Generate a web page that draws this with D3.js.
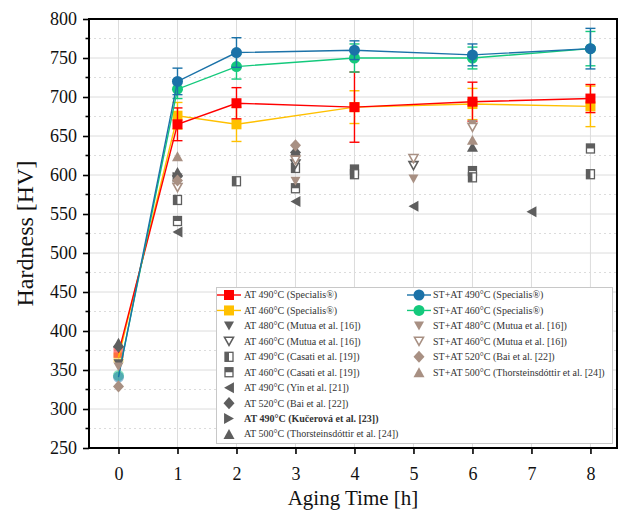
<!DOCTYPE html>
<html>
<head>
<meta charset="utf-8">
<script src="https://cdn.jsdelivr.net/npm/d3@7/dist/d3.min.js"></script>
<style>
  html, body { margin: 0; padding: 0; background: #fff; }
  svg { display: block; }
  text { font-family: "Liberation Serif", "Times New Roman", serif; }
</style>
</head>
<body>
<svg id="chart" width="622" height="511"></svg>
<script>
// ---- Specialis measurements (mean hardness and error) ----
const specialisHours = [0, 1, 2, 4, 6, 8];
const at490Specialis = [372, 665, 692, 687, 694, 698];
const at490SpecialisErr = [5, 21, 20, 45, 25, 18];
const at460Specialis = [366, 676, 665, 687, 691, 688];
const at460SpecialisErr = [5, 17, 22, 21, 20, 26];
const st490Specialis = [341, 720, 757, 760, 754, 762];
const st490SpecialisErr = [4, 17, 19, 12, 14, 26];
const st460Specialis = [343, 710, 739, 750, 750, 762];
const st460SpecialisErr = [4, 12, 16, 18, 14, 22];

// ---- literature values, [hours, HV] ----
const mutuaAT480 = [[0, 358], [1, 596], [3, 621]];
const mutuaAT460 = [[3, 614], [5, 612]];
const casatiAT490 = [[1, 568], [2, 592], [3, 609], [4, 601], [6, 597], [8, 601]];
const casatiAT460 = [[1, 541], [3, 583], [4, 607], [6, 605], [8, 634]];
const yinAT490 = [[1, 527], [3, 566], [5, 560], [7, 553]];
const baiAT520 = [[0, 380], [1, 599], [3, 629]];
const kucerovaAT490 = [[1, 597]];
const thorAT500 = [[0, 385], [1, 604], [6, 636]];
const mutuaST480 = [[0, 354], [3, 592], [5, 595], [6, 665]];
const mutuaST460 = [[1, 584], [3, 619], [5, 621], [6, 661]];
const baiST520 = [[0, 329], [1, 593], [3, 638]];
const thorST500 = [[1, 624], [6, 645]];

// ---- axis ticks ----
const xTicks = [0, 1, 2, 3, 4, 5, 6, 7, 8];
const yTicks = [250, 300, 350, 400, 450, 500, 550, 600, 650, 700, 750, 800];
const yMinorTicks = [275, 325, 375, 425, 475, 525, 575, 625, 675, 725, 775];

const RED = "#ff0000", YELLOW = "#ffc000", BLUE = "#1b72a8", GREEN = "#14c97c";
const DARK = "#5e5e5e", BROWN = "#a89083";

const svg = d3.select("#chart");
const W = 622, H = 511;
const margin = { left: 89, right: 5, top: 19, bottom: 63 };

const x = d3.scaleLinear().domain([-0.5, 8.45]).range([margin.left, W - margin.right]);
const y = d3.scaleLinear().domain([250, 800]).range([H - margin.bottom, margin.top]);

const x0 = margin.left, x1 = W - margin.right, y0 = H - margin.bottom, y1 = margin.top;

// ---- grid ----
const grid = svg.append("g");
grid.selectAll(".gv").data(xTicks).join("line")
  .attr("x1", d => x(d)).attr("x2", d => x(d)).attr("y1", y0).attr("y2", y1)
  .attr("stroke", "#dcdcdc").attr("stroke-width", 1);
grid.selectAll(".gh").data(yTicks.slice(1, -1)).join("line")
  .attr("x1", x0).attr("x2", x1).attr("y1", d => y(d)).attr("y2", d => y(d))
  .attr("stroke", "#dcdcdc").attr("stroke-width", 1);
grid.selectAll(".gm").data(yMinorTicks).join("line")
  .attr("x1", x0).attr("x2", x1).attr("y1", d => y(d)).attr("y2", d => y(d))
  .attr("stroke", "#dcdcdc").attr("stroke-width", 1).attr("stroke-dasharray", "2,3");

// ---- marker shapes ----
function triDown(s) { const h = s * 0.9; return `M${-s/2},${-h/2}L${s/2},${-h/2}L0,${h/2}Z`; }
function triUp(s) { const h = s * 0.9; return `M${-s/2},${h/2}L${s/2},${h/2}L0,${-h/2}Z`; }
function triLeft(s) { const w = s * 0.9; return `M${w/2},${-s/2}L${w/2},${s/2}L${-w/2},0Z`; }
function triRight(s) { const w = s * 0.9; return `M${-w/2},${-s/2}L${-w/2},${s/2}L${w/2},0Z`; }
function diamond(s) { return `M0,${-s/2*1.1}L${s/2},0L0,${s/2*1.1}L${-s/2},0Z`; }

// draw one marker of a given kind into a group
function marker(g, kind, color, cx, cy, opacity) {
  const m = g.append("g").attr("transform", `translate(${cx},${cy})`);
  if (opacity !== undefined) m.attr("opacity", opacity);
  switch (kind) {
    case "square":
      m.append("rect").attr("x", -5).attr("y", -5).attr("width", 10).attr("height", 10).attr("fill", color);
      break;
    case "circle":
      m.append("circle").attr("r", 5.5).attr("fill", color);
      break;
    case "triDown":
      m.append("path").attr("d", triDown(10)).attr("fill", color);
      break;
    case "triDownOpen":
      m.append("path").attr("d", triDown(9)).attr("fill", "#fff").attr("stroke", color).attr("stroke-width", 1.6);
      break;
    case "triUp":
      m.append("path").attr("d", triUp(11)).attr("fill", color);
      break;
    case "triLeft":
      m.append("path").attr("d", triLeft(11)).attr("fill", color);
      break;
    case "triRight":
      m.append("path").attr("d", triRight(11)).attr("fill", color);
      break;
    case "diamond":
      m.append("path").attr("d", diamond(11)).attr("fill", color);
      break;
    case "halfLeft":
      m.append("rect").attr("x", -4).attr("y", -4.5).attr("width", 8).attr("height", 9)
        .attr("fill", "#fff").attr("stroke", color).attr("stroke-width", 1.3);
      m.append("rect").attr("x", -4).attr("y", -4.5).attr("width", 4).attr("height", 9).attr("fill", color);
      break;
    case "halfTop":
      m.append("rect").attr("x", -4).attr("y", -4.5).attr("width", 8).attr("height", 9)
        .attr("fill", "#fff").attr("stroke", color).attr("stroke-width", 1.3);
      m.append("rect").attr("x", -4).attr("y", -4.5).attr("width", 8).attr("height", 4.5).attr("fill", color);
      break;
  }
}

// ---- Specialis series: lines, error bars, markers ----
const specialis = [
  { vals: at460Specialis, err: at460SpecialisErr, color: YELLOW, kind: "square" },
  { vals: at490Specialis, err: at490SpecialisErr, color: RED, kind: "square" },
  { vals: st460Specialis, err: st460SpecialisErr, color: GREEN, kind: "circle" },
  { vals: st490Specialis, err: st490SpecialisErr, color: BLUE, kind: "circle" }
];

const series = svg.append("g");
// as-received points at 0 h (drawn lighter, beneath the curves)
specialis.forEach(s => {
  marker(series, s.kind, s.color, x(specialisHours[0]), y(s.vals[0]), 0.5);
});
const line = d3.line().x(d => x(d[0])).y(d => y(d[1]));
specialis.forEach(s => {
  const pts = specialisHours.map((h, i) => [h, s.vals[i]]);
  series.append("path").attr("d", line(pts)).attr("fill", "none")
    .attr("stroke", s.color).attr("stroke-width", 1.4);
  specialisHours.forEach((h, i) => {
    if (i === 0) return;
    const cx = x(h), v = s.vals[i], e = s.err[i];
    const eb = series.append("g").attr("stroke", s.color).attr("stroke-width", 1.4);
    eb.append("line").attr("x1", cx).attr("x2", cx).attr("y1", y(v - e)).attr("y2", y(v + e));
    eb.append("line").attr("x1", cx - 5).attr("x2", cx + 5).attr("y1", y(v - e)).attr("y2", y(v - e));
    eb.append("line").attr("x1", cx - 5).attr("x2", cx + 5).attr("y1", y(v + e)).attr("y2", y(v + e));
    marker(series, s.kind, s.color, cx, y(v));
  });
});

// ---- literature data ----
const literature = [
  { data: yinAT490, kind: "triLeft", color: DARK },
  { data: casatiAT460, kind: "halfTop", color: DARK },
  { data: casatiAT490, kind: "halfLeft", color: DARK },
  { data: kucerovaAT490, kind: "triRight", color: DARK },
  { data: mutuaAT480, kind: "triDown", color: DARK },
  { data: mutuaAT460, kind: "triDownOpen", color: DARK },
  { data: baiAT520, kind: "diamond", color: DARK },
  { data: thorAT500, kind: "triUp", color: DARK },
  { data: mutuaST480, kind: "triDown", color: BROWN },
  { data: mutuaST460, kind: "triDownOpen", color: BROWN },
  { data: baiST520, kind: "diamond", color: BROWN },
  { data: thorST500, kind: "triUp", color: BROWN }
];
const lit = svg.append("g");
literature.forEach(s => s.data.forEach(d => marker(lit, s.kind, s.color, x(d[0]), y(d[1]))));

// ---- axes ----
const axisFont = 18;
const yAxis = svg.append("g").attr("transform", `translate(${x0},0)`)
  .call(d3.axisLeft(y).tickValues(yTicks).tickSize(6).tickPadding(6).tickFormat(d3.format("d")));
yAxis.selectAll(".tick text").attr("font-size", axisFont).attr("fill", "#111")
  .attr("font-family", "Liberation Serif, serif");
yAxis.selectAll(".tick line").attr("stroke", "#000").attr("stroke-width", 1.6);
yAxis.select(".domain").remove();
yAxis.selectAll(".minor").data(yMinorTicks).join("line")
  .attr("x1", -3.5).attr("x2", 0).attr("y1", d => y(d)).attr("y2", d => y(d))
  .attr("stroke", "#000").attr("stroke-width", 1.6);

const xAxis = svg.append("g").attr("transform", `translate(0,${y0})`)
  .call(d3.axisBottom(x).tickValues(xTicks).tickSize(6).tickPadding(13).tickFormat(d3.format("d")));
xAxis.selectAll(".tick text").attr("font-size", axisFont).attr("fill", "#111")
  .attr("font-family", "Liberation Serif, serif");
xAxis.selectAll(".tick line").attr("stroke", "#000").attr("stroke-width", 1.6);
xAxis.select(".domain").remove();

// plot frame
svg.append("rect").attr("x", x0).attr("y", y1).attr("width", x1 - x0).attr("height", y0 - y1)
  .attr("fill", "none").attr("stroke", "#000").attr("stroke-width", 2);

// axis titles
svg.append("text").attr("x", (x0 + x1) / 2).attr("y", 505).attr("text-anchor", "middle")
  .attr("font-size", 21).attr("fill", "#111").text("Aging Time [h]");
svg.append("text").attr("transform", `translate(33,${(y0 + y1) / 2}) rotate(-90)`)
  .attr("text-anchor", "middle").attr("font-size", 24).attr("fill", "#111").text("Hardness [HV]");

// ---- legend ----
const legendLeft = [
  { label: "AT 490°C (Specialis®)", kind: "square", color: RED, line: true },
  { label: "AT 460°C (Specialis®)", kind: "square", color: YELLOW, line: true },
  { label: "AT 480°C (Mutua et al. [16])", kind: "triDown", color: DARK },
  { label: "AT 460°C (Mutua et al. [16])", kind: "triDownOpen", color: DARK },
  { label: "AT 490°C (Casati et al. [19])", kind: "halfLeft", color: DARK },
  { label: "AT 460°C (Casati et al. [19])", kind: "halfTop", color: DARK },
  { label: "AT 490°C (Yin et al. [21])", kind: "triLeft", color: DARK },
  { label: "AT 520°C (Bai et al. [22])", kind: "diamond", color: DARK },
  { label: "AT 490°C (Kučerová et al. [23])", kind: "triRight", color: DARK, bold: true },
  { label: "AT 500°C (Thorsteinsdóttir et al. [24])", kind: "triUp", color: DARK }
];
const legendRight = [
  { label: "ST+AT 490°C (Specialis®)", kind: "circle", color: BLUE, line: true },
  { label: "ST+AT 460°C (Specialis®)", kind: "circle", color: GREEN, line: true },
  { label: "ST+AT 480°C (Mutua et al. [16])", kind: "triDown", color: BROWN },
  { label: "ST+AT 460°C (Mutua et al. [16])", kind: "triDownOpen", color: BROWN },
  { label: "ST+AT 520°C (Bai et al. [22])", kind: "diamond", color: BROWN },
  { label: "ST+AT 500°C (Thorsteinsdóttir et al. [24])", kind: "triUp", color: BROWN }
];

const leg = svg.append("g");
leg.append("rect").attr("x", 216.5).attr("y", 287.5).attr("width", 396).attr("height", 156)
  .attr("fill", "#fff").attr("stroke", "#c8c8c8").attr("stroke-width", 1);
function legendColumn(items, symX, textX) {
  items.forEach((it, i) => {
    const cy = 295 + i * 15.45;
    if (it.line) {
      leg.append("line").attr("x1", symX - 12).attr("x2", symX + 12).attr("y1", cy).attr("y2", cy)
        .attr("stroke", it.color).attr("stroke-width", 1.4);
    }
    marker(leg, it.kind, it.color, symX, cy);
    leg.append("text").attr("x", textX).attr("y", cy).attr("dy", "0.34em")
      .attr("font-size", 10).attr("fill", "#333")
      .attr("font-weight", it.bold ? "bold" : "normal").text(it.label);
  });
}
legendColumn(legendLeft, 229, 244);
legendColumn(legendRight, 419, 433);
</script>
</body>
</html>
